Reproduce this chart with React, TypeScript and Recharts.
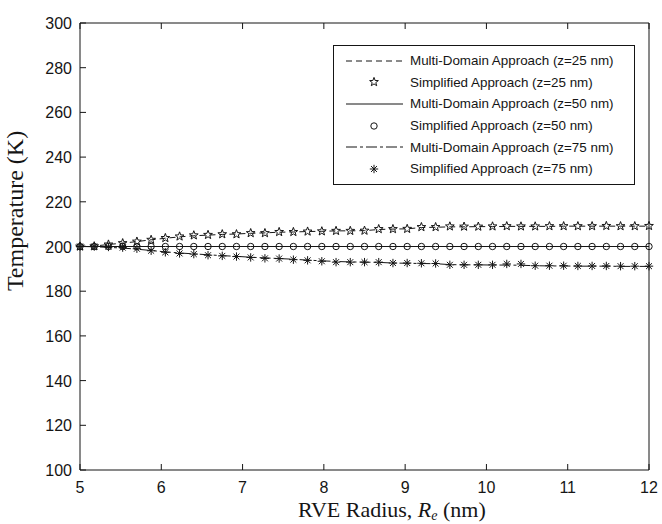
import { Legend, Line, LineChart, XAxis, YAxis } from "recharts";

// RVE radius (nm), 41 samples
const radius = [
	5, 5.175, 5.35, 5.525, 5.7, 5.875, 6.05, 6.225, 6.4, 6.575, 6.75, 6.925, 7.1, 7.275, 7.45, 7.625, 7.8,
	7.975, 8.15, 8.325, 8.5, 8.675, 8.85, 9.025, 9.2, 9.375, 9.55, 9.725, 9.9, 10.075, 10.25, 10.425, 10.6,
	10.775, 10.95, 11.125, 11.3, 11.475, 11.65, 11.825, 12,
];

const multi25 = [
	200, 200.2, 200.9, 201.5, 202.2, 203, 203.7, 204.3, 204.8, 205.1, 205.4, 205.6, 205.9, 206.1, 206.4,
	206.5, 206.7, 206.8, 207, 207, 207.1, 207.6, 207.8, 207.9, 208.5, 208.6, 208.8, 208.8, 208.9, 208.9,
	209, 209, 209, 209, 209.1, 209.1, 209.1, 209.1, 209.1, 209.1, 209.1,
];
const simple25 = [
	200, 200.1, 200.9, 201.5, 202.2, 203, 203.8, 204.5, 205, 205.2, 205.5, 205.5, 206, 206, 206.5, 206.5,
	206.7, 206.8, 207, 207, 207.1, 207.8, 207.8, 207.9, 208.7, 208.7, 209, 208.9, 208.9, 209, 209.1, 209,
	209, 209.1, 209.1, 209.1, 209.1, 209.2, 209.1, 209.1, 209.2,
];
const multi50 = [
	200, 200, 200, 200, 200, 200, 200, 200, 200, 200, 200, 200, 200, 200, 200, 200, 200, 200, 200, 200, 200,
	200, 200, 200, 200, 200, 200, 200, 200, 200, 200, 200, 200, 200, 200, 200, 200, 200, 200, 200, 200,
];
const simple50 = [
	200, 200, 200, 200, 200, 200, 200, 200, 200, 200, 200, 200, 200, 200, 200, 200, 200, 200, 200, 200, 200,
	200, 200, 200, 200, 200, 200, 200, 200, 200, 200, 200, 200, 200, 200, 200, 200, 200, 200, 200, 200,
];
const multi75 = [
	200, 199.9, 199.6, 199.3, 198.8, 198.2, 197.6, 197.1, 196.7, 196.3, 195.9, 195.6, 195.2, 194.9, 194.6,
	194.3, 193.9, 193.6, 193.3, 193.1, 193, 192.9, 192.6, 192.5, 192.4, 192.3, 191.9, 191.8, 191.8, 191.7,
	191.7, 191.6, 191.4, 191.3, 191.3, 191.2, 191.2, 191.2, 191.1, 191.1, 191.1,
];
const simple75 = [
	200, 200, 199.8, 199.5, 199, 198.1, 197.4, 196.9, 196.6, 196.1, 195.8, 195.5, 195.1, 194.7, 194.6,
	194.1, 193.8, 193.4, 193, 193, 193, 193, 192.6, 192.6, 192.5, 192.4, 191.8, 191.8, 191.8, 191.8, 192.2,
	192.2, 191.4, 191.4, 191.4, 191.3, 191.3, 191.3, 191.2, 191.2, 191.2,
];

const xTicks = [5, 6, 7, 8, 9, 10, 11, 12];
const yTicks = [100, 120, 140, 160, 180, 200, 220, 240, 260, 280, 300];

const legendNames = [
	"Multi-Domain Approach (z=25 nm)",
	"Simplified Approach (z=25 nm)",
	"Multi-Domain Approach (z=50 nm)",
	"Simplified Approach (z=50 nm)",
	"Multi-Domain Approach (z=75 nm)",
	"Simplified Approach (z=75 nm)",
];

const rows = radius.map((r, i) => ({
	r,
	m25: multi25[i],
	s25: simple25[i],
	m50: multi50[i],
	s50: simple50[i],
	m75: multi75[i],
	s75: simple75[i],
}));

const INK = "#151515";
const SANS = "'Liberation Sans', Arial, sans-serif";
const SERIF = "'Liberation Serif', 'Times New Roman', serif";

function StarMark({ cx, cy }: { cx: number; cy: number }) {
	const pts: string[] = [];
	for (let k = 0; k < 10; k++) {
		const rad = k % 2 === 0 ? 4.6 : 1.9;
		const a = -Math.PI / 2 + (k * Math.PI) / 5;
		pts.push(`${cx + rad * Math.cos(a)},${cy + rad * Math.sin(a)}`);
	}
	return <polygon points={pts.join(" ")} fill="none" stroke={INK} strokeWidth={1} />;
}

function CircleMark({ cx, cy }: { cx: number; cy: number }) {
	return <circle cx={cx} cy={cy} r={3.2} fill="none" stroke={INK} strokeWidth={1} />;
}

function AsteriskMark({ cx, cy }: { cx: number; cy: number }) {
	const s = 4.2;
	const d = s * 0.707;
	return (
		<g stroke={INK} strokeWidth={1}>
			<line x1={cx - s} y1={cy} x2={cx + s} y2={cy} />
			<line x1={cx} y1={cy - s} x2={cx} y2={cy + s} />
			<line x1={cx - d} y1={cy - d} x2={cx + d} y2={cy + d} />
			<line x1={cx - d} y1={cy + d} x2={cx + d} y2={cy - d} />
		</g>
	);
}

const dotOf = (Mark: typeof StarMark) => (p: any) => <Mark key={p.index} cx={p.cx} cy={p.cy} />;

function BottomTick({ x, y, payload }: any) {
	return (
		<g>
			<line x1={x} x2={x} y1={y} y2={y - 6} stroke={INK} />
			<text x={x} y={y + 23} textAnchor="middle" fontFamily={SANS} fontSize={16} fill={INK}>
				{payload.value}
			</text>
		</g>
	);
}

function LeftTick({ x, y, payload }: any) {
	return (
		<g>
			<line x1={x} x2={x + 6} y1={y} y2={y} stroke={INK} />
			<text x={x - 8} y={y + 6} textAnchor="end" fontFamily={SANS} fontSize={16} fill={INK}>
				{payload.value}
			</text>
		</g>
	);
}

function TopTick({ x, y }: any) {
	return <line x1={x} x2={x} y1={y} y2={y + 6} stroke={INK} />;
}

function RightTick({ x, y }: any) {
	return <line x1={x} x2={x - 6} y1={y} y2={y} stroke={INK} />;
}

function XTitle() {
	return (
		<text x={298} y={517} fontFamily={SERIF} fontSize={22} fill={INK}>
			RVE Radius,{"  "}
			<tspan fontStyle="italic">R</tspan>
			<tspan fontSize={14} dy={3} fontStyle="italic">e</tspan>
			<tspan dy={-3}>{"  "}(nm)</tspan>
		</text>
	);
}

function YTitle() {
	return (
		<text
			x={0}
			y={0}
			transform="translate(23,211) rotate(-90)"
			textAnchor="middle"
			fontFamily={SERIF}
			fontSize={24}
			fill={INK}
		>
			Temperature (K)
		</text>
	);
}

const samples = [
	{ dash: "6 4", mark: null },
	{ dash: null, mark: StarMark },
	{ dash: "0", mark: null },
	{ dash: null, mark: CircleMark },
	{ dash: "11 3 3 3", mark: null },
	{ dash: null, mark: AsteriskMark },
];

function LegendBox() {
	return (
		<div
			style={{
				border: `1px solid ${INK}`,
				background: "#fff",
				padding: "4px 0",
				width: 302,
				boxSizing: "border-box",
			}}
		>
			{legendNames.map((name, i) => {
				const s = samples[i];
				const Mark = s.mark;
				return (
					<div key={name} style={{ display: "flex", alignItems: "center", height: 21.6 }}>
						<svg width={76} height={20} style={{ flexShrink: 0 }}>
							{Mark ? (
								<Mark cx={40} cy={10} />
							) : (
								<line
									x1={12}
									x2={69}
									y1={10}
									y2={10}
									stroke={INK}
									strokeDasharray={s.dash === "0" ? undefined : s.dash!}
								/>
							)}
						</svg>
						<span style={{ fontFamily: SANS, fontSize: 13.4, color: INK, whiteSpace: "nowrap" }}>
							{name}
						</span>
					</div>
				);
			})}
		</div>
	);
}

export default function App() {
	return (
		<div style={{ position: "absolute", left: 0, top: 0, background: "#fff" }}>
			<LineChart
				width={662}
				height={524}
				data={rows}
				margin={{ top: 22, right: 12, bottom: 53, left: 79 }}
			>
				<XAxis
					dataKey="r"
					type="number"
					domain={[5, 12]}
					ticks={xTicks}
					height={1}
					tickSize={0}
					tickMargin={0}
					tick={<BottomTick />}
					axisLine={{ stroke: INK }}
					label={<XTitle />}
				/>
				<XAxis
					xAxisId="top"
					orientation="top"
					dataKey="r"
					type="number"
					domain={[5, 12]}
					ticks={xTicks}
					height={1}
					tickSize={0}
					tickMargin={0}
					tick={<TopTick />}
					axisLine={{ stroke: INK }}
				/>
				<YAxis
					type="number"
					domain={[100, 300]}
					ticks={yTicks}
					width={1}
					tickSize={0}
					tickMargin={0}
					tick={<LeftTick />}
					axisLine={{ stroke: INK }}
					label={<YTitle />}
				/>
				<YAxis
					yAxisId="right"
					orientation="right"
					type="number"
					domain={[100, 300]}
					ticks={yTicks}
					width={1}
					tickSize={0}
					tickMargin={0}
					tick={<RightTick />}
					axisLine={{ stroke: INK }}
				/>
				<Line dataKey="m25" stroke={INK} strokeWidth={1} strokeDasharray="6 4" dot={false} isAnimationActive={false} />
				<Line dataKey="s25" stroke="none" dot={dotOf(StarMark)} isAnimationActive={false} />
				<Line dataKey="m50" stroke={INK} strokeWidth={1} dot={false} isAnimationActive={false} />
				<Line dataKey="s50" stroke="none" dot={dotOf(CircleMark)} isAnimationActive={false} />
				<Line dataKey="m75" stroke={INK} strokeWidth={1} strokeDasharray="11 3 3 3" dot={false} isAnimationActive={false} />
				<Line dataKey="s75" stroke="none" dot={dotOf(AsteriskMark)} isAnimationActive={false} />
				<Legend
					layout="vertical"
					align="center"
					verticalAlign="middle"
					content={<LegendBox />}
					wrapperStyle={{ position: "absolute", left: 333, top: 45, width: 302 }}
				/>
			</LineChart>
		</div>
	);
}
